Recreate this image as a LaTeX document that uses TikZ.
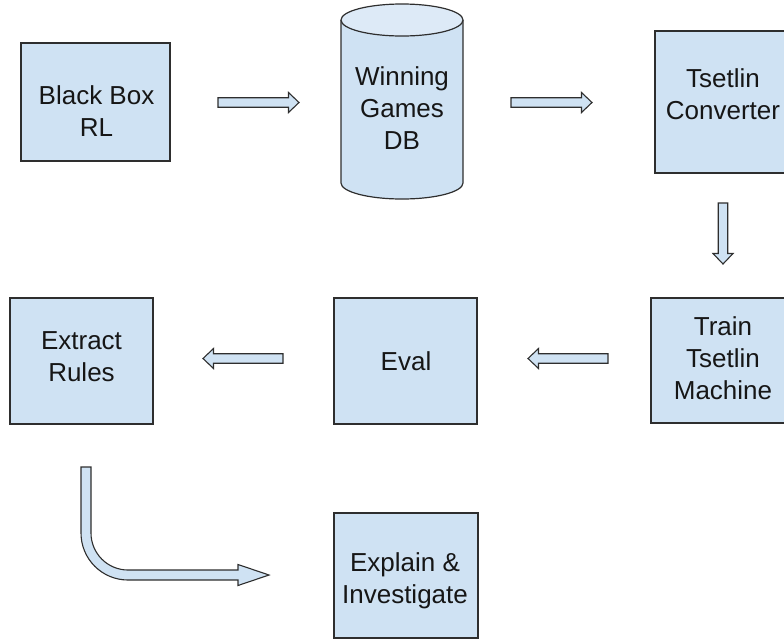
\documentclass[tikz,border=0pt]{standalone}
\usepackage{fontspec}
\setmainfont{Liberation Sans}
\definecolor{boxfill}{HTML}{CFE2F3}
\definecolor{capfill}{HTML}{DDEAF7}
\definecolor{edge}{HTML}{2E2E2E}
\definecolor{ink}{HTML}{161616}
\tikzset{
  pics/fatarrow/.style={code={
    \draw[arrowline] (0,-4.75) -- ({#1-10.5},-4.75) -- ({#1-10.5},-10)
      -- (#1,0) -- ({#1-10.5},10) -- ({#1-10.5},4.75) -- (0,4.75) -- cycle;
  }}
}
\begin{document}
\begin{tikzpicture}[x=1pt,y=-1pt,
  box/.style={draw=edge, fill=boxfill, line width=1.2pt, inner sep=0pt},
  lbl/.style={font=\fontsize{26}{32}\selectfont, text=ink, align=center,
    anchor=base, inner sep=0pt},
  arrowline/.style={draw=edge, fill=boxfill, line width=1.1pt, line join=miter}
]
\useasboundingbox (0,0) rectangle (784,641);
\clip (0,0) rectangle (784,641);

% process boxes
\node[box, minimum width=149pt, minimum height=118pt] (bb) at (95.5,102) {};
\node[box, minimum width=140pt, minimum height=142pt] (conv) at (725,102) {};
\node[box, minimum width=144pt, minimum height=125pt] (train) at (723,360.5) {};
\node[box, minimum width=143pt, minimum height=126pt] (eval) at (405.5,361) {};
\node[box, minimum width=143pt, minimum height=126pt] (extract) at (81.5,361) {};
\node[box, minimum width=144pt, minimum height=125pt] (explain) at (406,575.5) {};

% database cylinder
\coordinate (dbtop) at (402,20);
\coordinate (dbbot) at (402,183);
\fill[boxfill] (341,20) rectangle (463,183);
\filldraw[fill=boxfill, draw=edge, line width=1.2pt]
  (341,20) -- (341,183)
  .. controls (341,191.8) and (368.3,199) .. (402,199)
  .. controls (435.7,199) and (463,191.8) .. (463,183)
  -- (463,20);
\filldraw[fill=capfill, draw=edge, line width=1.2pt]
  (dbtop) ellipse [x radius=61, y radius=16];

% labels
\node[lbl] (bbtext) at (96.5,136.5) {Black Box\\RL};
\node[lbl] (dbtext) at (402,149.5) {Winning\\Games\\DB};
\node[lbl] (convtext) at (723,119) {Tsetlin\\Converter};
\node[lbl] (traintext) at (723,399.3) {Train\\Tsetlin\\Machine};
\node[lbl] (evaltext) at (406,370) {Eval};
\node[lbl] (extracttext) at (81.5,381.7) {Extract\\Rules};
\node[lbl] (explaintext) at (405,603.3) {Explain \&\\Investigate};

% flow arrows
\coordinate (a1) at (218,102.5);
\coordinate (a2) at (511,102.5);
\coordinate (a3) at (723,203);
\coordinate (a4) at (608,358.5);
\coordinate (a5) at (283,358.5);
\pic at (a1) {fatarrow=81};
\pic at (a2) {fatarrow=81};
\pic[rotate=-90] at (a3) {fatarrow=61};
\pic[rotate=180] at (a4) {fatarrow=80};
\pic[rotate=180] at (a5) {fatarrow=80};

% bent arrow towards the explanation step
\coordinate (bendstart) at (86,467);
\filldraw[arrowline]
  (81,467) -- (81,533)
  .. controls (81,559) and (102,580) .. (128,580)
  -- (238,580) -- (238,585.5) -- (269,575) -- (238,564.5) -- (238,570)
  -- (128,570)
  .. controls (107.6,570) and (91,553.4) .. (91,533)
  -- (91,467) -- cycle;
\end{tikzpicture}
\end{document}
